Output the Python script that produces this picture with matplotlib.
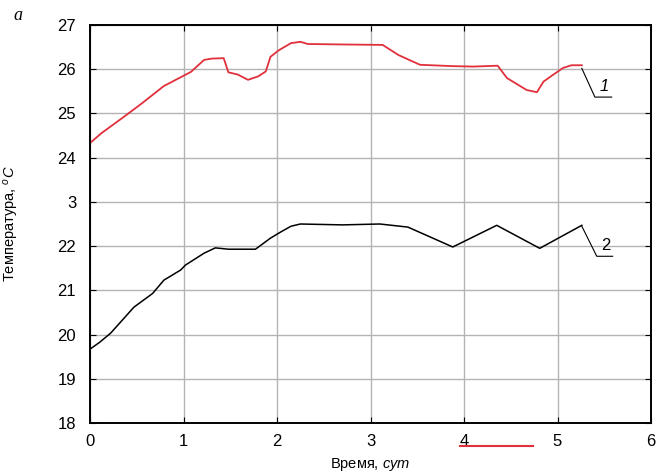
import matplotlib.pyplot as plt
from matplotlib.lines import Line2D

plt.rcParams['font.family'] = ['Liberation Sans', 'DejaVu Sans']
plt.rcParams['mathtext.fontset'] = 'custom'
plt.rcParams['mathtext.rm'] = 'Liberation Sans'
plt.rcParams['mathtext.it'] = 'Liberation Sans:italic'

# curve 1 (red)
t1 = [0.0, 0.12, 0.36, 0.55, 0.79, 1.08, 1.22, 1.30, 1.43, 1.48, 1.58, 1.69, 1.80, 1.88, 1.93,
      2.02, 2.15, 2.25, 2.33, 2.70, 3.13, 3.30, 3.53, 3.88, 4.10, 4.36, 4.46, 4.67, 4.78,
      4.85, 4.95, 5.06, 5.15, 5.26]
y1 = [24.33, 24.55, 24.92, 25.22, 25.62, 25.94, 26.21, 26.24, 26.25, 25.93, 25.88, 25.76, 25.84,
      25.95, 26.28, 26.43, 26.59, 26.62, 26.57, 26.56, 26.55, 26.32, 26.10, 26.07, 26.06, 26.08,
      25.80, 25.53, 25.48, 25.72, 25.87, 26.03, 26.09, 26.09]

# curve 2 (black)
t2 = [0.0, 0.10, 0.22, 0.47, 0.67, 0.79, 0.97, 1.02, 1.22, 1.34, 1.48, 1.77, 1.93, 2.04, 2.15,
      2.25, 2.70, 3.10, 3.40, 3.88, 4.35, 4.81, 5.26]
y2 = [19.67, 19.82, 20.03, 20.62, 20.93, 21.23, 21.46, 21.57, 21.84, 21.96, 21.93, 21.93, 22.18,
      22.32, 22.45, 22.50, 22.48, 22.50, 22.43, 21.98, 22.47, 21.95, 22.47]

yticks = [18, 19, 20, 21, 22, 23, 24, 25, 26, 27]
ylabels = ['18', '19', '20', '21', '22', '3', '24', '25', '26', '27']
xticks = [0, 1, 2, 3, 4, 5, 6]

fig = plt.figure(figsize=(6.57, 4.75), dpi=100)
ax = fig.add_axes([90 / 657, 1 - 423 / 475, 561 / 657, 398 / 475])

ax.plot(t1, y1, color='#e0303c', lw=1.3)
ax.plot(t2, y2, color='black', lw=1.1)

# leader lines + curve labels
ax.plot([5.26, 5.40, 5.58], [26.02, 25.37, 25.37], color='black', lw=0.8)
ax.text(5.50, 25.45, '1', fontsize=12, style='italic', ha='center', va='bottom')
ax.plot([5.26, 5.42, 5.59], [22.45, 21.77, 21.77], color='black', lw=0.8)
ax.text(5.52, 21.85, '2', fontsize=12, ha='center', va='bottom')

ax.set_xlim(0, 6)
ax.set_ylim(18, 27)
ax.set_xticks(xticks)
ax.set_yticks(yticks)
ax.set_yticklabels(ylabels)
ax.grid(True, color='#b4b4b4', lw=1)
ax.tick_params(direction='in', length=4, labelsize=12, top=True, right=True)
ax.tick_params(axis='x', pad=8)
ax.tick_params(axis='y', pad=10)
for s in ax.spines.values():
    s.set_linewidth(1.4)

ax.set_xlabel('Время, $\\it{сут}$', fontsize=10.5, labelpad=5)
ax.set_ylabel('Температура, $^{o}\\it{C}$', fontsize=10.5, labelpad=26)

fig.text(18 / 657, 1 - 16 / 475, 'a', fontsize=13, style='italic',
         family='Liberation Serif', ha='center', va='center')

# stray red stroke under the x axis
fig.add_artist(Line2D([460 / 657, 533 / 657], [1 - 446 / 475, 1 - 446 / 475],
                      color='#e0303c', lw=1.5))

fig.savefig('out.png', dpi=100)
